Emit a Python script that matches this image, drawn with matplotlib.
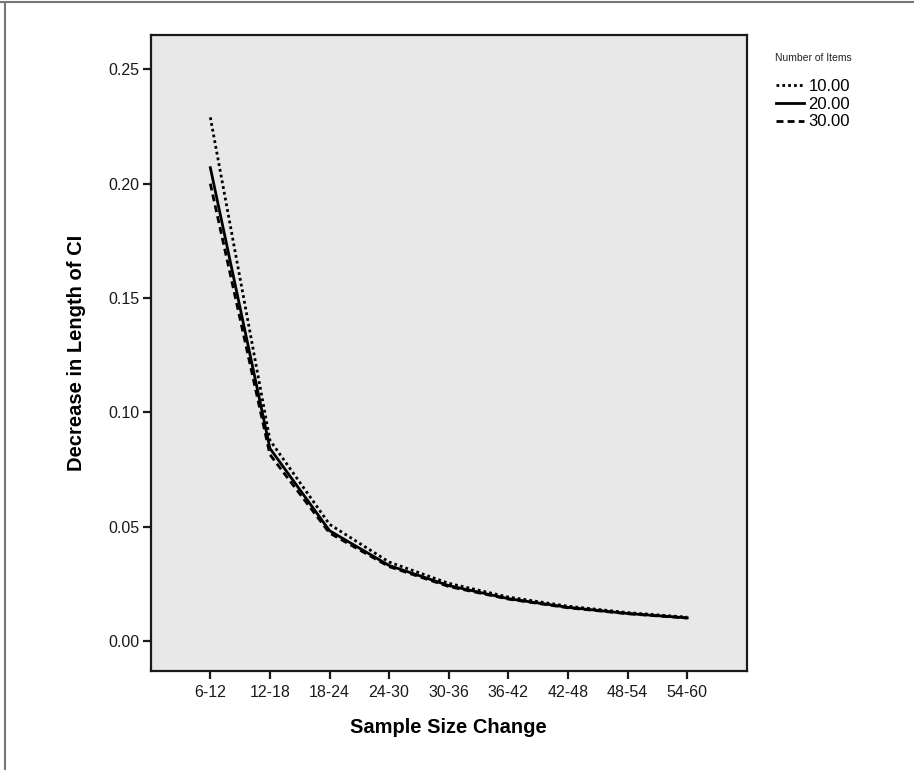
import matplotlib
matplotlib.use("Agg")
import matplotlib.pyplot as plt
from matplotlib.lines import Line2D

categories = ["6-12", "12-18", "18-24", "24-30", "30-36", "36-42", "42-48", "48-54", "54-60"]
items10 = [0.229, 0.0878, 0.0510, 0.0345, 0.0252, 0.0192, 0.0152, 0.0124, 0.0104]
items20 = [0.207, 0.0842, 0.0482, 0.0330, 0.0242, 0.0185, 0.0147, 0.0120, 0.0101]
items30 = [0.200, 0.0815, 0.0472, 0.0325, 0.0238, 0.0183, 0.0145, 0.0119, 0.0100]
series_labels = ["10.00", "20.00", "30.00"]
legend_title = "Number of Items"
yticks = [0.00, 0.05, 0.10, 0.15, 0.20, 0.25]

plt.rcParams['font.family'] = ['Liberation Sans', 'DejaVu Sans']

fig = plt.figure(figsize=(9.14, 7.70), dpi=100)
ax = fig.add_axes([0.1649, 0.129, 0.8171 - 0.1649, 0.9545 - 0.129])
ax.set_facecolor("#e8e8e8")

x = list(range(len(categories)))
l1, = ax.plot(x, items10, color="black", lw=2.0, linestyle=(0, (1.0, 1.1)), label=series_labels[0])
l2, = ax.plot(x, items20, color="black", lw=2.0, linestyle="-", label=series_labels[1])
l3, = ax.plot(x, items30, color="black", lw=2.0, linestyle=(0, (2.5, 1.5)), label=series_labels[2])

ax.set_xlim(-1, len(categories))
ax.set_ylim(-0.013, 0.265)
ax.set_xticks(x)
ax.set_xticklabels(categories)
ax.set_yticks(yticks)
ax.set_yticklabels([f"{v:.2f}" for v in yticks])

for s in ax.spines.values():
    s.set_linewidth(1.6)
    s.set_color("#1a1a1a")
ax.tick_params(axis="both", direction="out", length=6, width=1.6, labelsize=11.5, colors="#1a1a1a")
ax.tick_params(axis="y", pad=2)
ax.tick_params(axis="x", pad=4)

ax.set_xlabel("Sample Size Change", fontsize=14.5, fontweight="bold", labelpad=13)
ax.set_ylabel("Decrease in Length of CI", fontsize=14.5, fontweight="bold", labelpad=16)

fig.text(0.848, 1 - 58 / 770, legend_title, fontsize=7.5, ha="left", va="center", color="#222222")
leg = fig.legend(handles=[l1, l2, l3], labels=series_labels,
                 loc="upper left", bbox_to_anchor=(0.849, 1 - 79 / 770), frameon=False,
                 fontsize=12, handlelength=1.7, handletextpad=0.25,
                 labelspacing=0.16, borderpad=0.0, borderaxespad=0.0)

# outer border lines (top and left)
fig.add_artist(Line2D([0, 1], [0.9975, 0.9975], transform=fig.transFigure, color="#777777", lw=1.5))
fig.add_artist(Line2D([0.0055, 0.0055], [0, 0.9975], transform=fig.transFigure, color="#777777", lw=1.5))

fig.savefig("out.png", dpi=100)
